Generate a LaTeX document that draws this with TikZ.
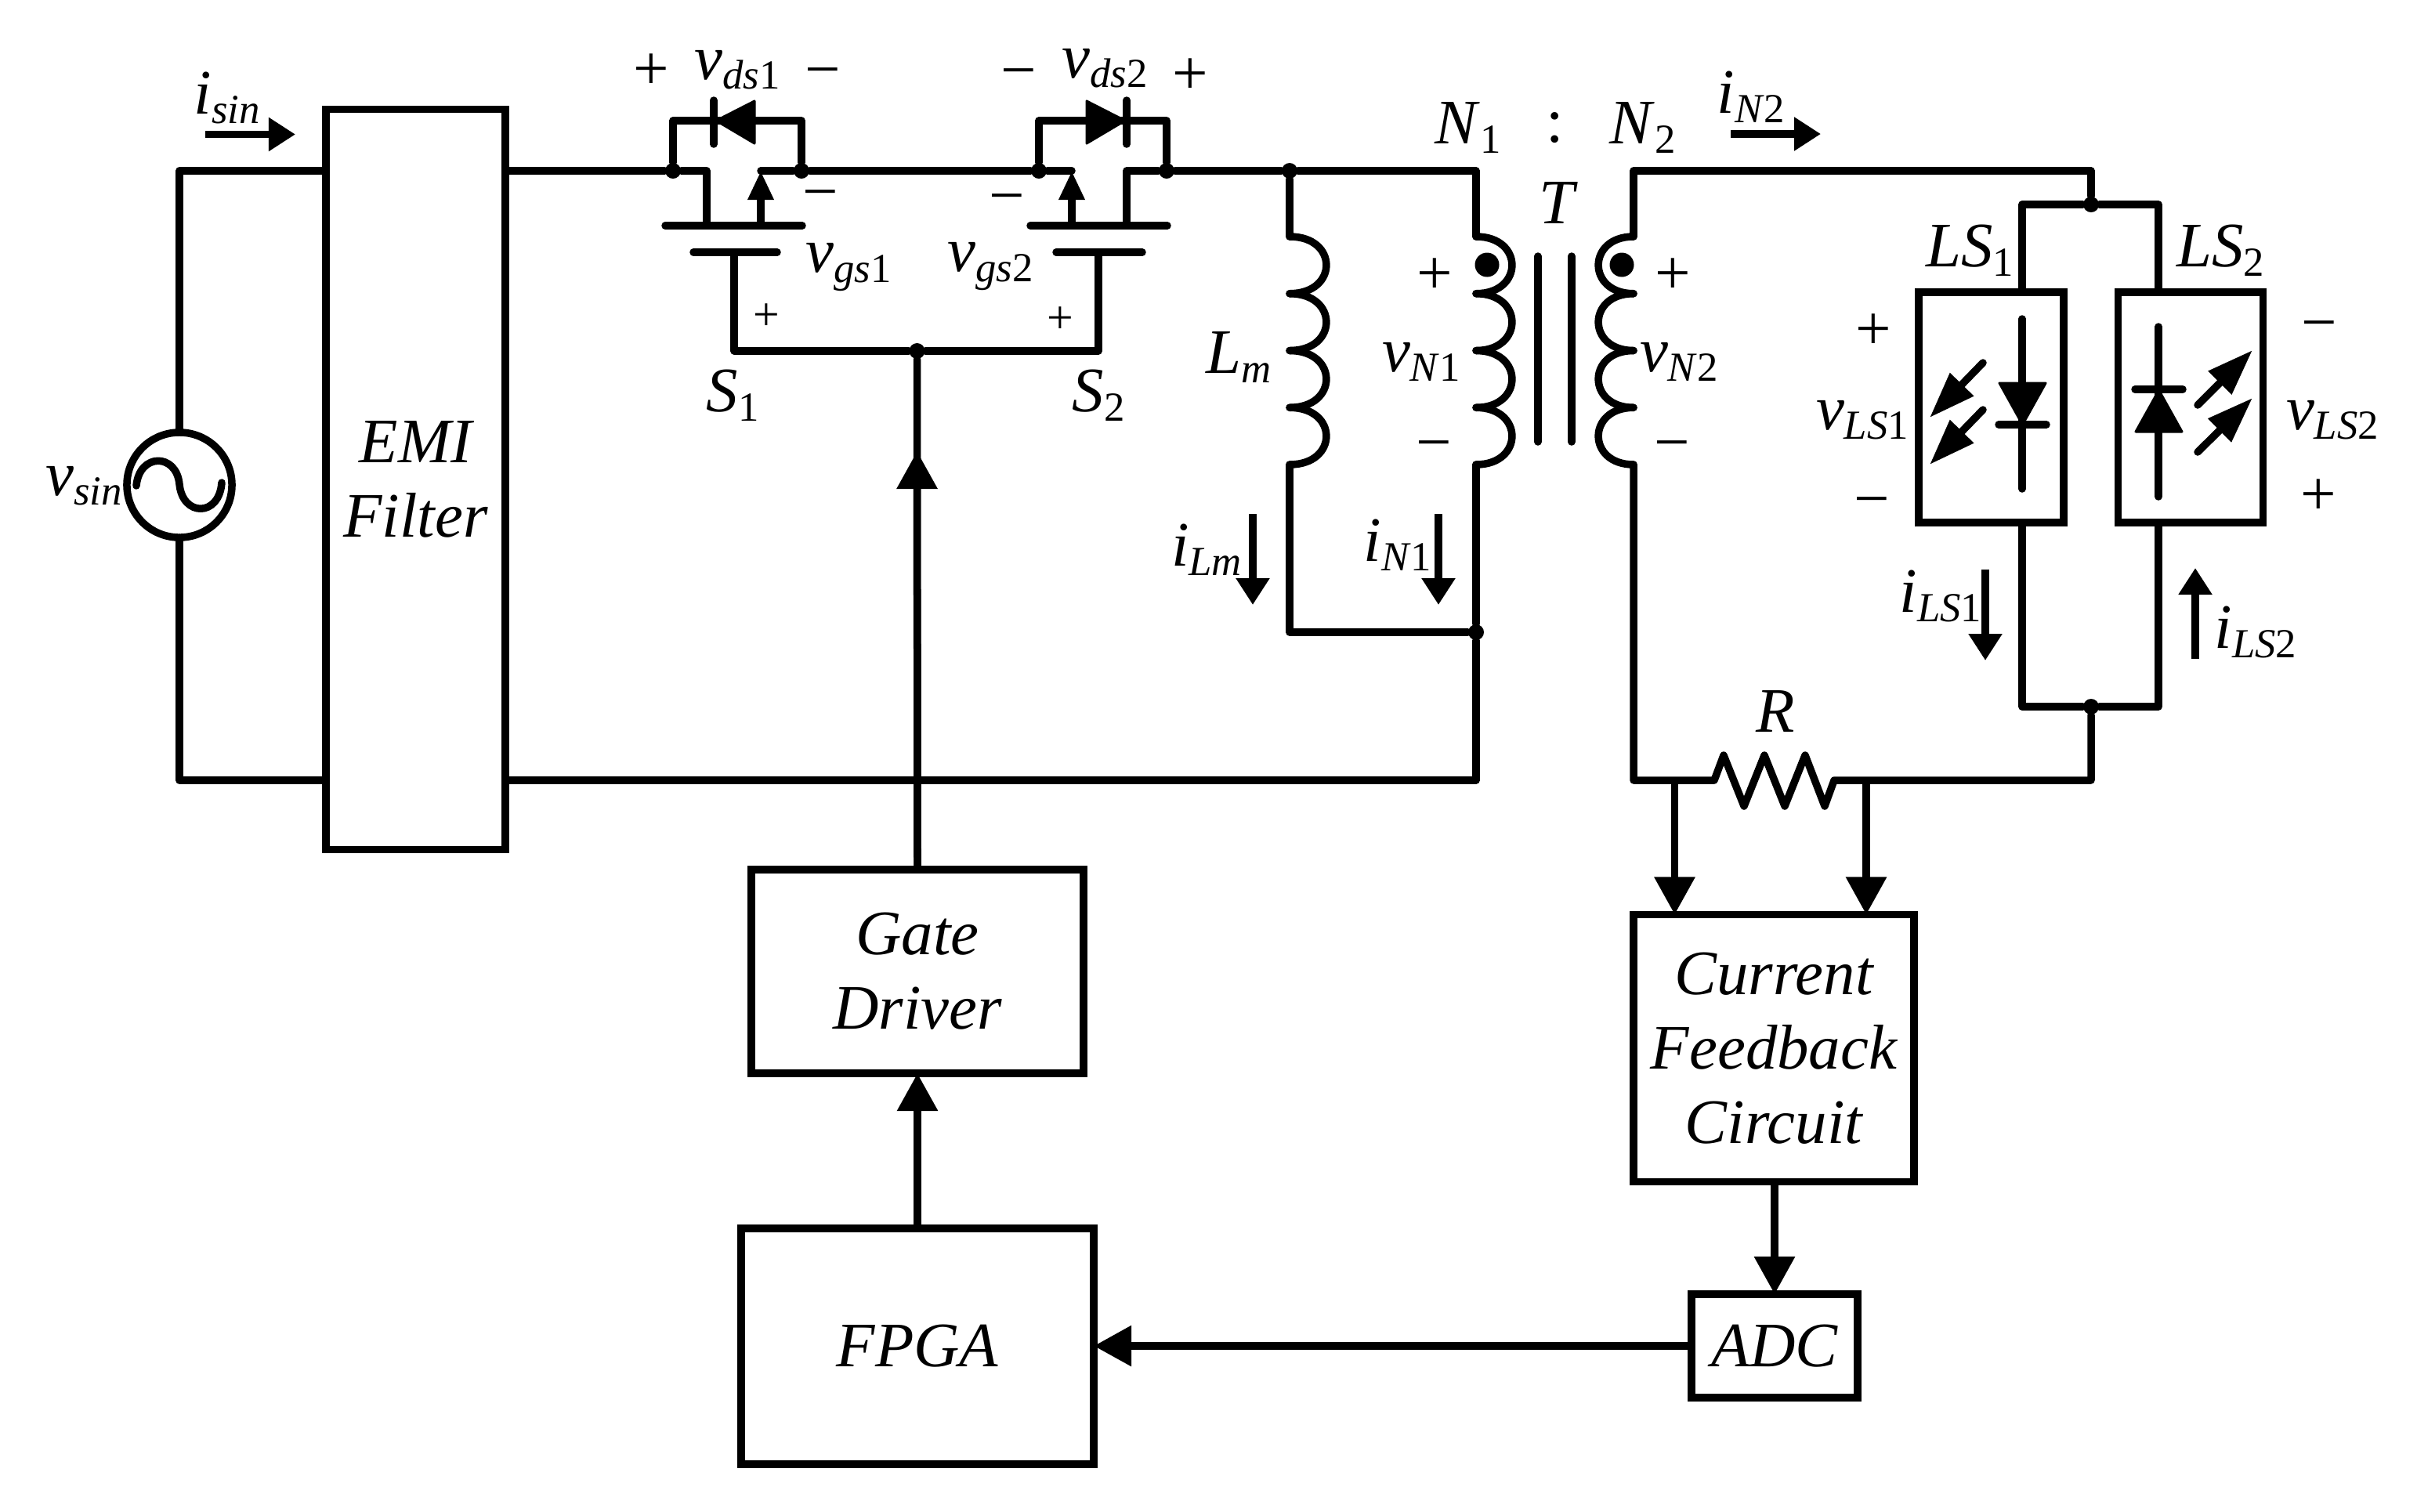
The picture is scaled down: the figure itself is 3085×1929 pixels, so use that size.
\documentclass[tikz,border=0pt]{standalone}
\usepackage{fontspec}
\setmainfont{Liberation Serif}
\usepackage{tikz}
\usetikzlibrary{arrows.meta,calc}
\tikzstyle{wire}=[line width=0.095cm, line cap=round, line join=round]
\tikzstyle{block}=[rectangle, draw=black, line width=0.095cm, inner sep=0pt, outer sep=0pt, anchor=center, align=center, font=\fontsize{23}{27}\selectfont\itshape]
\tikzstyle{annot}=[inner sep=0pt, anchor=center, font=\fontsize{23}{27}\selectfont]
\tikzstyle{jdot}=[circle, fill=black, inner sep=0pt, minimum size=0.2cm]
\tikzstyle{polarity}=[circle, fill=black, inner sep=0pt, minimum size=0.31cm]
\tikzstyle{sigarrow}=[line width=0.095cm, -{Triangle[length=0.48cm,width=0.5cm]}]
\tikzstyle{curarrow}=[line width=0.095cm, -{Triangle[length=0.34cm,width=0.41cm]}]
\tikzstyle{srcarrow}=[wire, -{Triangle[length=0.37cm,width=0.31cm]}]
\tikzstyle{lightarrow}=[wire, -{Triangle[length=0.59cm,width=0.4cm]}]
\newcommand{\sublab}[3]{\textit{#1}\raisebox{-3.5pt}{\fontsize{15}{15}\selectfont\textit{#2}#3}}
\newcommand{\drawcoil}[2]
{
  \foreach \i in {0,...,3}
    \draw[wire] (#1,{302+\i*72.75}) .. controls ({#1+1.33*#2},{302+\i*72.75}) and ({#1+1.33*#2},{302+(\i+1)*72.75}) .. (#1,{302+(\i+1)*72.75});
}
\begin{document}
\begin{tikzpicture}[x=0.01cm,y=-0.01cm]
	\useasboundingbox (0,0) rectangle (3085,1929);

	% blocks
	\node[block, minimum width=2.29cm, minimum height=9.44cm](emi) at (530.5,612){EMI\\Filter};
	\node[block, minimum width=4.24cm, minimum height=2.6cm](gate) at (1171,1240){Gate\\Driver};
	\node[block, minimum width=4.5cm, minimum height=3.01cm](fpga) at (1171,1718.5){FPGA};
	\node[block, minimum width=3.58cm, minimum height=3.41cm](cfc) at (2264,1338){Current\\Feedback\\Circuit};
	\node[block, minimum width=2.12cm, minimum height=1.32cm](adc) at (2265,1718){ADC};
	\node[block, minimum width=1.85cm, minimum height=2.935cm](ls1) at (2541.5,520){};
	\node[block, minimum width=1.85cm, minimum height=2.935cm](ls2) at (2796,520){};

	% source
	\node[block, circle, minimum size=1.34cm](src) at (229,619){};
	\coordinate (tl) at (229,218);
	\coordinate (bl) at (229,996);
	\draw[wire] (src) -- (tl) -- (emi.west |- tl);
	\draw[wire] (src) -- (bl) -- (emi.west |- bl);
	\draw[wire] (174,620) .. controls (178,578) and (225,578) .. (229,618) .. controls (233,660) and (280,660) .. (283,616);

	% junctions
	\node[jdot](d1) at (859,218){};
	\node[jdot](s1) at (1023,218){};
	\node[jdot](s2) at (1326,218){};
	\node[jdot](d2) at (1489,218){};
	\node[jdot](jm) at (1646,218){};
	\node[jdot](jb) at (1884,807){};
	\node[jdot](jg) at (1170.5,448){};
	\node[jdot](jt) at (2669,261){};
	\node[jdot](jr) at (2669,902){};

	% upper rail and switches
	\draw[wire] (emi.east |- d1) -- (d1) -- (902,218) -- (902,288);
	\draw[wire] (971,218) -- (s1) -- (s2) -- (1368,218);
	\draw[wire] (1438,288) -- (1438,218) -- (d2) -- (jm);
	\draw[srcarrow] (971,288) -- (971,218);
	\draw[srcarrow] (1368,288) -- (1368,218);
	\draw[wire] (849,288) -- (1024,288);
	\draw[wire] (1315,288) -- (1490,288);
	\draw[wire] (885,322) -- (992,322);
	\draw[wire] (1348,322) -- (1458,322);
	\draw[wire] (937,322) -- (937,448) -- (jg) -- (1402,448) -- (1402,322);

	% body diodes
	\draw[wire] (d1) -- (859,154) -- (1023,154) -- (s1);
	\draw[wire] (s2) -- (1326,154) -- (1489,154) -- (d2);
	\draw[wire] (911,128) -- (911,184);
	\draw[wire] (1438,128) -- (1438,184);
	\draw[wire, fill=black, line width=0.03cm] (914,154) -- (963,129) -- (963,183) -- cycle;
	\draw[wire, fill=black, line width=0.03cm] (1436,154) -- (1387,129) -- (1387,183) -- cycle;

	% magnetizing inductor and transformer
	\drawcoil{1646}{47}
	\drawcoil{1884}{46}
	\drawcoil{2085}{-45}
	\draw[wire] (jm) -- (1646,302);
	\draw[wire] (jm) -- (1884,218) -- (1884,302);
	\draw[wire] (1646,593) -- (1646,807) -- (jb);
	\draw[wire] (1884,593) -- (jb) -- (1884,996) -- (emi.east |- bl);
	\draw[wire] (1963,327) -- (1963,564);
	\draw[wire] (2006,327) -- (2006,564);
	\node[polarity](p1) at (1898,338){};
	\node[polarity](p2) at (2070,338){};

	% secondary and light sources
	\draw[wire] (2085,302) -- (2085,218) -- (2669,218) -- (jt);
	\draw[wire] (ls1.north -| 2581,0) -- (2581,261) -- (jt) -- (2755,261) -- (ls2.north -| 2755,0);
	\draw[wire] (ls1.south -| 2581,0) -- (2581,902) -- (jr) -- (2755,902) -- (ls2.south -| 2755,0);
	\draw[wire] (2581,407) -- (2581,624);
	\draw[wire] (2755,417) -- (2755,634);
	\draw[wire] (2551,542) -- (2612,542);
	\draw[wire] (2725,497) -- (2786,497);
	\draw[wire, fill=black, line width=0.03cm] (2552,489) -- (2611,489) -- (2581.5,542) -- cycle;
	\draw[wire, fill=black, line width=0.03cm] (2726,551) -- (2785,551) -- (2755.5,498) -- cycle;
	\draw[lightarrow] (2531,463) -- (2463,533);
	\draw[lightarrow] (2531,523) -- (2463,593);
	\draw[lightarrow] (2805,517) -- (2875,447);
	\draw[lightarrow] (2805,577) -- (2875,508);

	% sense resistor
	\coordinate (rl) at (2188,996);
	\coordinate (rr) at (2341,996);
	\draw[wire] (2085,593) -- (2085,996) -- (rl) -- (2200,964) -- (2226,1029) -- (2252,964) -- (2278,1029) -- (2304,964) -- (2329,1029) -- (rr) -- (2669,996) -- (jr);

	% control path
	\coordinate (fb1) at (2137.5,996);
	\coordinate (fb2) at (2382,996);
	\draw[sigarrow] (fb1) -- (fb1 |- cfc.north);
	\draw[sigarrow] (fb2) -- (fb2 |- cfc.north);
	\draw[sigarrow] (cfc.south -| adc.north) -- (adc.north);
	\draw[sigarrow] (adc.west) -- (fpga.east |- adc.west);
	\draw[sigarrow] (fpga.north) -- (gate.south);
	\draw[wire] (gate.north) -- (jg);
	\coordinate (gt) at (1170.5,576);
	\draw[sigarrow] (gate.north) -- (gt);

	% current arrows
	\draw[curarrow] (262,171.5) -- (377,171.5);
	\draw[curarrow] (2209,171) -- (2324,171);
	\draw[curarrow] (1599,656) -- (1599,772);
	\draw[curarrow] (1836,656) -- (1836,772);
	\draw[curarrow] (2534,727) -- (2534,843);
	\draw[curarrow] (2802,841) -- (2802,725);

	% labels
	\node[annot](visin) at (107,620){\sublab{v}{sin}{}};
	\node[annot](iisin) at (290,125){\sublab{i}{sin}{}};
	\node[annot](plus1) at (831,92){+};
	\node[annot](vds1) at (941,89){\sublab{v}{ds}{1}};
	\node[annot](minus1) at (1050,101){−};
	\node[annot](minus2) at (1300,102){−};
	\node[annot](vds2) at (1410,87){\sublab{v}{ds}{2}};
	\node[annot](plus2) at (1519,98){+};
	\node[annot](minus3) at (1047,257){−};
	\node[annot](minus4) at (1285,262){−};
	\node[annot](vgs1) at (1083,341){\sublab{v}{gs}{1}};
	\node[annot](vgs2) at (1264,340){\sublab{v}{gs}{2}};
	\node[annot, font=\fontsize{17}{17}\selectfont](plus3) at (978,405){+};
	\node[annot, font=\fontsize{17}{17}\selectfont](plus4) at (1353,409){+};
	\node[annot](sw1) at (935,505){\sublab{S}{}{1}};
	\node[annot](sw2) at (1402,505){\sublab{S}{}{2}};
	\node[annot](lm) at (1581,456){\sublab{L}{m}{}};
	\node[annot](ilm) at (1540,702){\sublab{i}{Lm}{}};
	\node[annot](in1) at (1784,696){\sublab{i}{N}{1}};
	\node[annot](n1) at (1874,163){\sublab{N}{}{1}};
	\node[annot](colon) at (1985,163){:};
	\node[annot](n2) at (2097,163){\sublab{N}{}{2}};
	\node[annot](tr) at (1989,259){\textit{T}};
	\node[annot](plus5) at (1831,353){+};
	\node[annot](minus5) at (1830,577){−};
	\node[annot](vn1) at (1814,462){\sublab{v}{N}{1}};
	\node[annot](vn2) at (2143,462){\sublab{v}{N}{2}};
	\node[annot](plus6) at (2135,353){+};
	\node[annot](minus6) at (2134,577){−};
	\node[annot](in2) at (2235,124){\sublab{i}{N}{2}};
	\node[annot](lsa) at (2514,320){\sublab{LS}{}{1}};
	\node[annot](lsb) at (2834,320){\sublab{LS}{}{2}};
	\node[annot](plus7) at (2391,424){+};
	\node[annot](minus7) at (2389,649){−};
	\node[annot](vls1) at (2377,536){\sublab{v}{LS}{1}};
	\node[annot](vls2) at (2977,536){\sublab{v}{LS}{2}};
	\node[annot](minus8) at (2960,424){−};
	\node[annot](plus8) at (2959,635){+};
	\node[annot](ils1) at (2477,761){\sublab{i}{LS}{1}};
	\node[annot](ils2) at (2879,807){\sublab{i}{LS}{2}};
	\node[annot](rs) at (2266,908){\textit{R}};
\end{tikzpicture}
\end{document}
